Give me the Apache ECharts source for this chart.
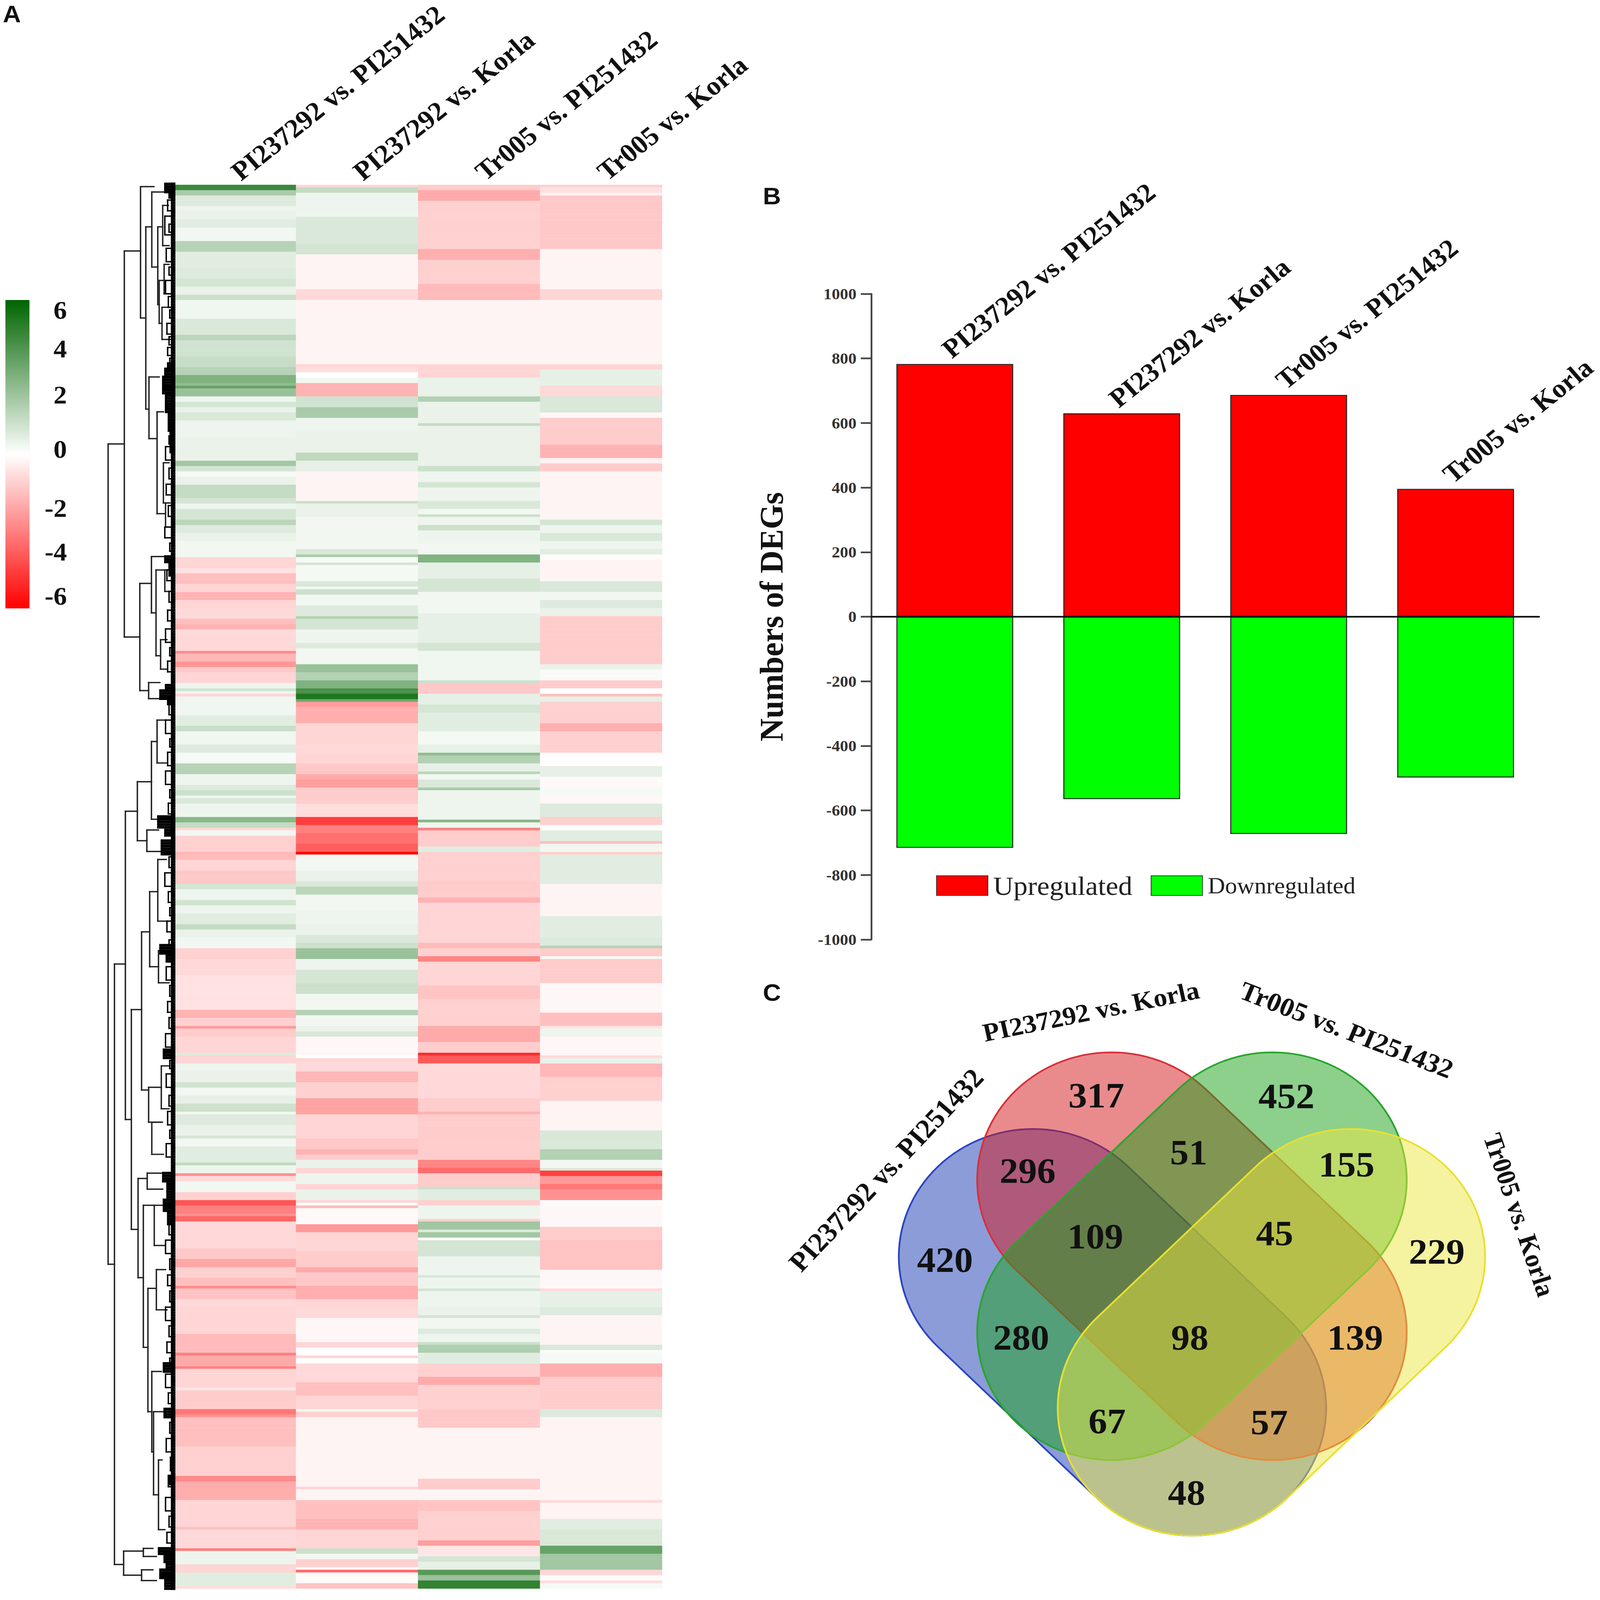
<!DOCTYPE html>
<html><head><meta charset="utf-8">
<style>html,body{margin:0;padding:0;background:#fff;overflow:hidden;width:100vw;height:100vh}#c{width:4543px;height:4775px;transform-origin:0 0}</style>
<script src="https://cdn.jsdelivr.net/npm/echarts@6/dist/echarts.min.js"></script>
</head><body><div id="c"></div>
<script>
const comparisons = ['PI237292 vs. PI251432','PI237292 vs. Korla','Tr005 vs. PI251432','Tr005 vs. Korla'];
const rowCount = 524;

// heat map bands: [last row of the band, log2 fold change]
const bandsCol1 = [[2,4.6],[4,2.0],[8,.8],[10,.4],[13,.5],[16,.7],[21,.3],[25,1.7],[31,.7],[35,.8],[38,1.0],[41,.5],[43,1.2],[50,.35],[56,.9],[58,1.6],[64,1.1],[68,1.3],[71,1.7],[74,3.0],[75,2.6],[76,3.6],[79,2.4],[81,.4],[83,1.0],[85,.5],[88,.9],[94,.4],[103,.5],[105,2.2],[107,1.0],[109,.2],[112,.5],[117,1.4],[119,1.0],[121,.4],[125,1.0],[127,1.6],[130,.8],[133,.5],[139,.3],[143,-1.0],[145,-.7],[149,-1.5],[152,-1.0],[155,-1.8],[158,-1.0],[162,-.9],[164,-1.5],[166,-1.8],[174,-.9],[175,-2.7],[178,-1.7],[180,-2.5],[182,-1.3],[186,-1.0],[188,.4],[189,1.1],[190,.4],[191,-1.0],[198,.35],[202,.7],[204,1.3],[209,.35],[212,.8],[216,.2],[220,1.7],[224,.4],[226,.8],[228,1.2],[229,.4],[231,.9],[236,.4],[238,2.8],[238,.4],[240,1.4],[241,-.9],[243,.3],[249,-1.1],[250,-1.7],[252,-1.6],[256,-1.0],[261,-1.3],[263,1.0],[267,.4],[269,1.1],[272,.4],[276,.7],[278,1.4],[281,.5],[285,.3],[289,-1.1],[295,-.9],[308,-.7],[311,-1.8],[314,-1.1],[315,-2.4],[318,-1.2],[324,-1.0],[325,.8],[328,-1.0],[331,.4],[335,.5],[337,1.1],[340,.3],[343,.6],[346,1.2],[347,.3],[351,.8],[355,.5],[356,1.0],[359,.3],[365,.7],[366,1.5],[369,.4],[370,-2.6],[372,-.9],[376,.3],[379,-1.1],[381,-4.0],[384,-3.0],[385,-2.6],[387,-3.6],[397,-.9],[401,-1.3],[404,-2.1],[408,-1.1],[411,-1.5],[412,-2.7],[416,-1.4],[419,-.9],[429,-1.0],[436,-1.6],[437,-3.0],[441,-2.0],[442,-3.0],[449,-1.0],[450,-.6],[457,-1.2],[459,-3.2],[460,-2.6],[471,-1.5],[482,-1.1],[484,-2.8],[486,-2.0],[491,-1.9],[501,-1.0],[502,-1.5],[509,-.9],[510,-3.0],[515,.4],[518,-1.0],[523,.7],[524,-.8]];
const bandsCol2 = [[1,-1.0],[3,1.4],[12,.4],[22,.9],[26,1.0],[39,-.25],[43,-.9],[67,-.25],[68,-1.0],[70,-.8],[72,0],[74,.3],[79,-1.8],[83,1.1],[87,2.0],[92,.4],[100,.5],[103,1.5],[107,.6],[118,-.25],[119,1.2],[124,.5],[136,.3],[138,.9],[139,2.0],[141,.2],[142,1.0],[148,.25],[150,.9],[151,.3],[153,1.2],[157,.3],[161,.8],[162,1.8],[166,1.0],[171,.4],[173,.8],[179,.3],[182,2.4],[185,1.8],[188,3.0],[190,4.3],[192,5.3],[193,3.4],[195,-2.3],[201,-1.9],[209,-1.0],[212,-.9],[216,-1.0],[220,-1.3],[222,-2.0],[225,-2.3],[231,-1.2],[236,-.8],[239,-4.6],[242,-3.0],[246,-3.4],[249,-3.8],[250,-6],[256,.3],[260,.5],[262,.9],[265,1.6],[271,.3],[276,.4],[280,.5],[283,.9],[285,1.2],[289,2.4],[293,.4],[298,1.0],[302,1.2],[308,.3],[310,1.8],[314,.3],[316,.5],[318,.9],[325,-.2],[325,-1.0],[326,0],[327,-1.0],[331,-.9],[335,-1.7],[341,-1.1],[347,-2.2],[356,-1.0],[360,-1.3],[362,-1.8],[364,-1.2],[367,.5],[369,-1.0],[373,.4],[375,-1.0],[379,.5],[380,-1.0],[381,-.1],[382,-1.6],[388,-.15],[391,-2.4],[398,-1.0],[404,-1.2],[406,-2.0],[411,-1.3],[416,-1.9],[419,-1.0],[423,-.9],[432,-.2],[434,-1.0],[437,.05],[438,-1.0],[440,0],[447,-.9],[452,-1.5],[457,-1.0],[458,.35],[460,-1.1],[486,-.25],[487,-1.0],[491,-.25],[498,-1.5],[502,-1.8],[509,-1.0],[511,1.2],[513,.3],[516,-1.1],[517,.1],[518,-3.5],[522,-.1],[524,-1.4]];
const bandsCol3 = [[2,-1.2],[6,-2.0],[24,-1.1],[28,-1.9],[37,-1.1],[43,-1.6],[67,-.25],[72,-1.0],[79,.5],[81,1.8],[89,.5],[90,1.4],[105,.5],[107,1.2],[111,.4],[113,1.0],[118,.4],[121,.9],[123,.3],[124,1.2],[127,.4],[129,1.2],[134,.4],[138,.3],[141,3.0],[147,.6],[152,1.0],[160,.3],[171,.6],[174,1.0],[185,.35],[186,1.2],[190,-1.3],[194,.6],[197,1.0],[204,.7],[209,.25],[212,.6],[213,2.6],[216,1.8],[219,.6],[220,1.6],[222,.3],[225,.9],[226,2.0],[237,.4],[238,2.8],[240,.4],[241,-3.0],[247,-1.2],[249,.7],[260,-1.1],[266,-1.2],[268,-1.8],[283,-1.0],[285,-1.6],[288,-1.1],[290,-2.9],[299,-1.0],[304,-1.4],[314,-1.1],[320,-2.0],[324,-1.2],[325,-5.0],[328,-3.9],[341,-.9],[346,-1.2],[347,-1.8],[353,-1.2],[364,-1.2],[367,-2.9],[369,-3.5],[374,-1.2],[375,1.2],[379,.7],[381,-1.1],[386,.4],[387,-1.1],[390,2.2],[391,.8],[393,2.2],[394,.05],[400,1.0],[407,.4],[408,.9],[412,.4],[413,1.0],[419,.4],[422,.5],[423,1.0],[427,.3],[429,.8],[432,.4],[433,1.2],[436,1.9],[440,.7],[445,-1.1],[448,-2.0],[457,-1.1],[464,-1.3],[483,-.25],[487,-1.2],[491,-.25],[495,-1.4],[506,-1.1],[508,-2.3],[512,-.6],[514,1.0],[517,.6],[519,3.9],[521,2.4],[524,4.8]];
const bandsCol4 = [[1,-1.1],[3,-.7],[4,-.3],[24,-1.3],[39,-.25],[43,-1.0],[67,-.25],[69,-1.0],[75,.6],[79,-.9],[85,.9],[87,-.2],[97,-1.2],[102,-1.8],[104,-.3],[107,-1.2],[125,-.25],[127,1.0],[130,.4],[133,.9],[136,.4],[138,.7],[140,-.1],[148,-.25],[152,.9],[155,.3],[158,.8],[161,.5],[179,-1.2],[181,.5],[185,.15],[188,-1.2],[190,0],[191,-1.5],[193,.6],[201,-1.1],[204,-1.9],[209,-1.1],[212,-1.1],[217,-.05],[221,.6],[225,-.15],[228,.2],[231,-.2],[236,.8],[239,-1.1],[241,.1],[245,.7],[246,-1.5],[249,.3],[250,-1.2],[261,.7],[273,-.25],[281,.7],[284,.8],[285,1.7],[288,-1.2],[289,.2],[298,-1.2],[309,-.2],[314,-1.5],[315,-.6],[318,.4],[325,-.2],[326,-.9],[328,.5],[333,-1.7],[342,-1.1],[353,-.25],[360,.9],[364,1.8],[367,.3],[368,.9],[370,-4.5],[373,-2.4],[375,-3.2],[379,-2.6],[381,-.1],[389,-.2],[394,-1.2],[405,-1.4],[412,-.2],[413,-.9],[419,.6],[422,.8],[433,-.25],[435,.9],[436,.1],[440,.2],[445,-1.9],[457,-1.2],[460,.8],[491,-.25],[492,-.9],[498,-.25],[502,.7],[508,.9],[511,3.6],[517,2.2],[519,-1.0],[521,-.1],[522,-.8],[524,.2]];
const colourTicks = ['6','4','2','0','-2','-4','-6'];

// dendrogram: [merge height, top row, bottom row, top child height, bottom child height]
const dendroNodes = [[187,97,403,141,169],[141,25,169,95,97],[95,1,50,57,80],[80,16,84,63,71],[63,3,31,22,46],[46,16,45,32,42],[32,8,23,16,14],[42,36,52,28,34],[28,30,41,14,12],[34,46,58,10,8],[71,72,95,42,48],[48,85,123,30,24],[30,104,119,14,12],[24,119,128,12,10],[97,149,189,64,72],[64,139,160,8,51],[51,144,176,26,38],[26,144,152,12,10],[38,170,181,20,18],[72,186,192,40,36],[169,291,515,138,143],[138,234,349,104,121],[104,223,245,64,77],[64,208,237,48,40],[48,200,216,24,20],[77,241,249,44,40],[121,308,390,92,102],[92,279,338,69,72],[69,264,292,46,44],[46,252,275,22,18],[44,286,298,16,14],[72,337,350,36,33],[36,329,345,16,14],[63,350,362,34,30],[102,371,408,76,87],[76,369,375,36,32],[87,381,434,56,74],[56,381,396,30,26],[74,412,458,50,63],[50,405,420,24,20],[63,443,473,36,58],[58,458,489,30,44],[44,476,502,34,26],[143,510,519,87,92],[87,509,512,60,50],[92,517,521,60,50]];
const leafBrackets = [[18,6,10],[26,12,19],[14,15,18],[22,24,29],[14,31,34],[24,36,41],[16,42,46],[12,47,50],[20,52,56],[14,57,60],[18,61,64],[12,65,67],[14,94,97],[24,98,103],[14,106,110],[22,112,116],[16,120,124],[26,128,132],[12,134,137],[20,144,148],[14,152,156],[18,159,163],[24,166,171],[12,173,176],[18,178,182],[14,194,198],[24,200,205],[12,207,210],[18,212,217],[24,219,224],[12,226,229],[16,231,235],[14,251,255],[26,257,262],[16,264,268],[12,270,273],[20,275,279],[14,282,284],[22,292,297],[12,299,303],[18,305,309],[14,311,315],[24,317,322],[12,327,330],[22,332,337],[14,340,344],[18,346,351],[12,353,356],[22,358,363],[14,388,392],[24,394,399],[12,401,405],[18,407,411],[12,413,417],[24,419,424],[14,426,430],[20,432,436],[12,438,441],[24,444,449],[16,451,455],[12,462,466],[22,468,473],[10,475,480],[16,482,486],[24,490,495],[14,497,501],[20,503,507]];
const leafTufts = [[0,524,5],[0,3,24],[3,5,12],[67,69,16],[69,72,24],[72,78,30],[78,85,22],[85,92,14],[92,100,9],[139,141,24],[141,146,12],[187,189,22],[189,192,38],[192,194,16],[236,240,44],[241,243,24],[245,250,34],[284,287,38],[287,290,20],[323,326,28],[369,372,30],[372,378,18],[379,383,28],[383,388,16],[440,443,28],[457,460,26],[482,485,14],[509,511,42],[511,514,26],[514,517,20],[517,520,38],[520,524,24]];

// bar chart
const upCounts = [783,630,687,396];
const downCounts = [-716,-565,-673,-498];

// Venn diagram
const vennCounts = [420,317,452,229,296,51,155,109,45,280,98,139,67,57,48];

// geometry of the overlay drawing, kept apart from the values above
const vennCapsules = [[962,1230,1110,1378,125],[1035,1155,1185,1304,125],[1185,1155,1035,1304,125],[1258,1230,1110,1378,125]];
const vennFills = ['rgba(24,58,178,.5)','rgba(211,23,27,.5)','rgba(25,161,25,.5)','rgba(235,231,65,.5)'];
const vennLines = ['#2a45c0','#d8303a','#2aa52a','#e8e030'];
const vennCountPos = [[880,1233],[1021,1072],[1198,1073],[1338,1225],[957,1146],[1107,1128],[1254,1140],[1020,1210],[1187,1207],[951,1309],[1108,1309],[1262,1309],[1031,1391],[1182,1392],[1105,1461]];
const vennTitlePos = [[825,1145,48,81],[1016,990,12,77],[1254,1008,-22,79],[1415,1189,-72,76]];

const SERIF = '"Liberation Serif","Times New Roman",serif';
const heatData = [];
[bandsCol1,bandsCol2,bandsCol3,bandsCol4].forEach((bands,c)=>{
  let b = 0;
  for (let r=0;r<rowCount;r++){
    while (b<bands.length-1 && bands[b][0]<=r) b++;
    heatData.push([c,r,bands[b][1]]);
  }
});
const rowNames = Array.from({length:rowCount},(_,i)=>String(i));
const INK = '#222';
function seg(api,h1,r1,h2,r2,w,col){
  const a = api.coord([h1,r1]), b = api.coord([h2,r2]);
  return {type:'line',shape:{x1:a[0],y1:a[1],x2:b[0],y2:b[1]},style:{stroke:col||INK,lineWidth:w,lineCap:'square'}};
}
function capsulePoints(api,x1,y1,x2,y2,r){
  const ang = Math.atan2(y2-y1,x2-x1), pts=[];
  for(let i=0;i<=60;i++){const t=ang+Math.PI/2+Math.PI*i/60;pts.push(api.coord([x1+r*Math.cos(t),y1+r*Math.sin(t)]));}
  for(let i=0;i<=60;i++){const t=ang-Math.PI/2+Math.PI*i/60;pts.push(api.coord([x2+r*Math.cos(t),y2+r*Math.sin(t)]));}
  return pts;
}
const hidden = {show:false};
const option = {
  animation:false, backgroundColor:'#fff',
  title:[
    {text:'A',left:8,top:6,textStyle:{fontFamily:'"Liberation Sans"',fontWeight:'bold',fontSize:71,color:'#111'},padding:0},
    {text:'B',left:2166,top:549,textStyle:{fontFamily:'"Liberation Sans"',fontWeight:'bold',fontSize:71,color:'#111'},padding:0},
    {text:'C',left:2166,top:2926,textStyle:{fontFamily:'"Liberation Sans"',fontWeight:'bold',fontSize:71,color:'#111'},padding:0}
  ],
  grid:[
    {left:494,top:549,width:1386,height:4192},
    {left:294,top:549,width:200,height:4192},
    {left:2474,top:877,width:1896,height:1927},
    {left:0,top:0,width:4543,height:4775}
  ],
  xAxis:[
    {gridIndex:0,type:'category',position:'top',data:comparisons,axisLine:hidden,axisTick:hidden,splitLine:hidden,
     axisLabel:{rotate:-40,interval:0,margin:30,fontFamily:SERIF,fontWeight:'bold',fontSize:79,color:'#111'}},
    {gridIndex:1,type:'value',min:0,max:200,inverse:true,show:false},
    {gridIndex:2,type:'category',data:comparisons,axisLine:{onZero:true,lineStyle:{color:'#111',width:5}},axisTick:hidden,axisLabel:hidden,z:5},
    {gridIndex:3,type:'value',min:0,max:1490,show:false}
  ],
  yAxis:[
    {gridIndex:0,type:'category',inverse:true,data:rowNames,show:false},
    {gridIndex:1,type:'value',min:0,max:rowCount,inverse:true,show:false},
    {gridIndex:2,type:'value',min:-1000,max:1000,interval:200,splitLine:hidden,
     axisLine:{show:true,lineStyle:{color:'#444',width:5}},axisTick:{show:true,length:30,lineStyle:{color:'#444',width:5}},
     axisLabel:{margin:42,formatter:v=>String(v),fontFamily:SERIF,fontWeight:'bold',fontSize:47,color:'#333'},
     name:'Numbers of DEGs',nameLocation:'middle',nameRotate:90,nameGap:236,
     nameTextStyle:{fontFamily:SERIF,fontWeight:'bold',fontSize:95,color:'#111'}},
    {gridIndex:3,type:'value',min:0,max:1566,inverse:true,show:false}
  ],
  visualMap:{type:'continuous',seriesIndex:0,min:-6,max:6,calculable:false,realtime:false,
    inRange:{color:['#ff0000','#ffffff','#006400']},
    itemWidth:69,itemHeight:921,left:15,top:895,padding:0,text:null,showLabel:false},
  legend:{selectedMode:false,left:2658,top:2603,itemWidth:146,itemHeight:59,itemGap:52,padding:0,icon:'rect',
    data:[{name:'Upregulated',icon:'rect',textStyle:{fontSize:80,fontFamily:SERIF,color:'#222',padding:[0,0,0,10]}},
          {name:'Downregulated',icon:'rect',textStyle:{fontSize:68,fontFamily:SERIF,color:'#222',padding:[0,0,0,10]}}]},
  graphic:colourTicks.map((t,i)=>({type:'text',x:190,y:[925,1041,1178,1340,1516,1647,1778][i],
    style:{text:t,textAlign:'right',textVerticalAlign:'middle',font:'bold 76px '+SERIF,fill:'#111'}})),
  series:[
    {type:'heatmap',xAxisIndex:0,yAxisIndex:0,data:heatData,progressive:0,emphasis:{disabled:true}},
    {type:'custom',xAxisIndex:1,yAxisIndex:1,data:dendroNodes,encode:{x:0,y:1},clip:false,silent:true,z:3,
     renderItem:(p,api)=>{const h=api.value(0),t=api.value(1),b=api.value(2),ht=api.value(3),hb=api.value(4);
       return {type:'group',children:[seg(api,h,t,h,b,4),seg(api,h,t,ht,t,4),seg(api,h,b,hb,b,4)]};}},
    {type:'custom',xAxisIndex:1,yAxisIndex:1,data:leafBrackets,encode:{x:0,y:1},clip:false,silent:true,z:3,
     renderItem:(p,api)=>{const h=api.value(0),t=api.value(1),b=api.value(2);
       return {type:'group',children:[seg(api,h,t,h,b,4,'#000'),seg(api,h,t,0,t,4,'#000'),seg(api,h,b,0,b,4,'#000')]};}},
    {type:'custom',xAxisIndex:1,yAxisIndex:1,data:leafTufts,encode:{x:2,y:0},clip:false,silent:true,z:3,
     renderItem:(p,api)=>{const s=api.value(0),e=api.value(1),h=api.value(2),ch=[seg(api,h,s,h,e,4,'#000')];
       for(let r=s;r<=e;r++)ch.push(seg(api,h,r,0,r,8,'#000'));
       return {type:'group',children:ch};}},
    {name:'Upregulated',type:'bar',stack:'d',xAxisIndex:2,yAxisIndex:2,barWidth:'70%',data:upCounts,
     itemStyle:{color:'#ff0000',borderColor:'#2a2a2a',borderWidth:3},
     label:{show:true,position:'top',rotate:40,align:'left',verticalAlign:'bottom',distance:4,
       formatter:p=>comparisons[p.dataIndex],fontFamily:SERIF,fontWeight:'bold',fontSize:79,color:'#111'}},
    {name:'Downregulated',type:'bar',stack:'d',xAxisIndex:2,yAxisIndex:2,barWidth:'70%',data:downCounts,
     itemStyle:{color:'#00ff00',borderColor:'#2a2a2a',borderWidth:3}},
    {type:'custom',xAxisIndex:3,yAxisIndex:3,data:vennCapsules,encode:{x:0,y:1},clip:false,silent:true,z:4,
     renderItem:(p,api)=>({type:'polygon',shape:{points:capsulePoints(api,api.value(0),api.value(1),api.value(2),api.value(3),api.value(4))},
       style:{fill:vennFills[p.dataIndex],stroke:vennLines[p.dataIndex],lineWidth:5}})},
    {type:'scatter',xAxisIndex:3,yAxisIndex:3,symbolSize:0,silent:true,z:6,itemStyle:{opacity:1},
     data:vennCountPos.map((q,i)=>({value:q,name:String(vennCounts[i])})),
     label:{show:true,position:'inside',align:'center',verticalAlign:'middle',formatter:'{b}',fontFamily:SERIF,fontWeight:'bold',fontSize:106,color:'#111'}},
    {type:'scatter',xAxisIndex:3,yAxisIndex:3,symbolSize:0,silent:true,z:6,itemStyle:{opacity:1},
     data:vennTitlePos.map((q,i)=>({value:[q[0],q[1]],name:comparisons[i],
       label:{show:true,position:'inside',align:'center',verticalAlign:'middle',formatter:'{b}',rotate:q[2],fontFamily:SERIF,fontWeight:'bold',fontSize:q[3],color:'#111'}}))}
  ]
};
// the browser may grant a smaller window than the 4543x4775 asked for: fit the drawing to what it gives
const box = document.getElementById('c');
box.style.transform = 'scale(' + (window.innerWidth/4543) + ',' + (window.innerHeight/4775) + ')';
echarts.init(box,null,{renderer:'svg',width:4543,height:4775}).setOption(option);
</script></body></html>
